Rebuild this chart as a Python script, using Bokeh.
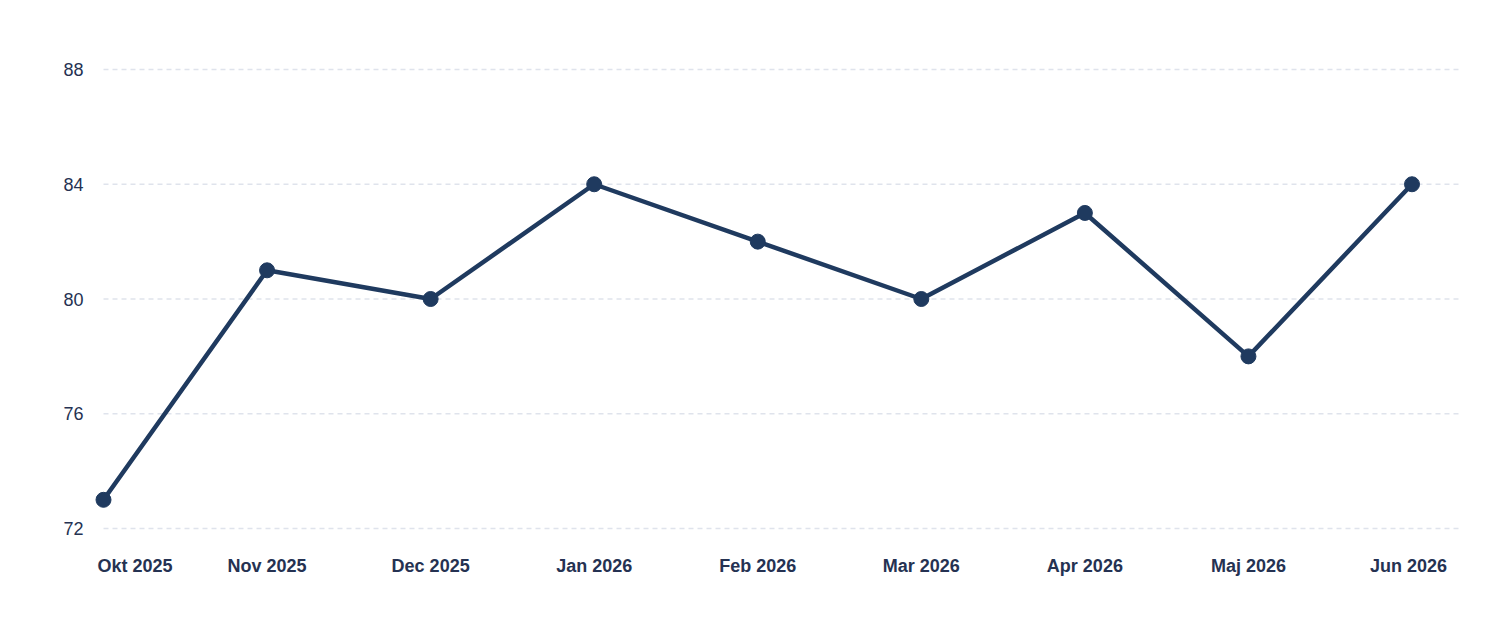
from bokeh.plotting import figure
from bokeh.models import Range1d, ColumnDataSource
from bokeh.core.properties import value
from bokeh.embed import file_html
from bokeh.resources import INLINE

months = ["Okt 2025", "Nov 2025", "Dec 2025", "Jan 2026", "Feb 2026",
          "Mar 2026", "Apr 2026", "Maj 2026", "Jun 2026"]
values = [73, 81, 80, 84, 82, 80, 83, 78, 84]
y_ticks = [72, 76, 80, 84, 88]

W, H = 1476, 604
# canvas layout in pixels
x0_px, x8_px = 103.0, 1411.5
y88_px, y72_px = 69.0, 528.0
ux = (x8_px - x0_px) / 8.0
uy = (y72_px - y88_px) / 16.0

x_start = -x0_px / ux
x_end = 8 + (W - x8_px) / ux
y_end = 88 + y88_px / uy
y_start = 72 - (H - y72_px) / uy
grid_end = 8 + (1458 - x8_px) / ux

p = figure(width=W, height=H, output_backend="svg", toolbar_location=None,
           x_range=Range1d(x_start, x_end), y_range=Range1d(y_start, y_end),
           min_border=0, min_border_left=0, min_border_right=0,
           min_border_top=0, min_border_bottom=0)
p.axis.visible = False
p.grid.visible = False
p.outline_line_color = None
p.background_fill_color = "white"
p.border_fill_color = "white"

TEXT = "#253252"
LINE = "#1f3a5f"

# grid lines
p.segment(x0=[0] * len(y_ticks), x1=[grid_end] * len(y_ticks), y0=y_ticks, y1=y_ticks,
          line_color="#dfe3ec", line_width=1.5, line_dash="5 4")

# y tick labels
p.text(x=[0] * len(y_ticks), y=y_ticks, text=[str(t) for t in y_ticks],
       x_offset=-20, text_align="right", text_baseline="middle",
       text_font=value("Liberation Sans"), text_font_size="18px", text_color=TEXT)

# x labels
xs = list(range(len(months)))
aligns = ["center"] * len(months)
offs = [0] * len(months)
aligns[0] = "left"
offs[0] = -6
aligns[-1] = "right"
offs[-1] = 35
lab_y = 72 - (565 - 528) / uy
src = ColumnDataSource(dict(x=xs, y=[lab_y] * len(xs), text=months, align=aligns, off=offs))
p.text(x="x", y="y", text="text", source=src, x_offset="off", text_align="align",
       text_baseline="middle", text_font=value("Liberation Sans"), text_font_style="bold",
       text_font_size="18px", text_color=TEXT)

# line + markers
p.line(xs, values, line_color=LINE, line_width=4.5, line_join="round")
p.scatter(xs, values, size=15, fill_color=LINE, line_color=LINE)

open("out.html", "w").write(file_html(p, INLINE))
